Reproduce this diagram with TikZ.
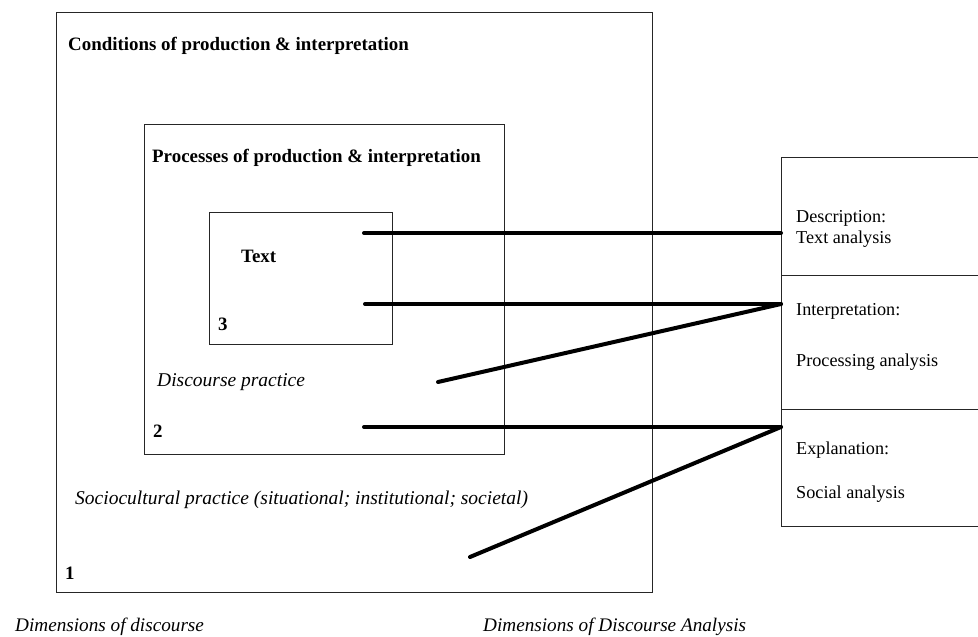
\documentclass[tikz,border=0pt]{standalone}
\usepackage{fontspec}
\setmainfont{Liberation Serif}
\begin{document}
\begin{tikzpicture}[x=1pt,y=-1pt,
  box/.style={draw=black!85, line width=1.1pt, inner sep=0pt, anchor=north west},
  conn/.style={line width=4pt, line cap=round},
  bl/.style={anchor=base west, inner sep=0pt, font=\fontsize{18.9}{20}\selectfont\bfseries},
  il/.style={anchor=base west, inner sep=0pt, font=\fontsize{19.5}{20}\selectfont\itshape},
  rl/.style={anchor=base west, inner sep=0pt, font=\fontsize{18.2}{20}\selectfont},
  captionlbl/.style={anchor=base west, inner sep=0pt, font=\fontsize{19.2}{20}\selectfont\itshape}]
\useasboundingbox (0,0) rectangle (978,637);
\clip (0,0) rectangle (978,637);
% boxes
\node[box, minimum width=596pt, minimum height=580pt] (outer) at (56,12) {};
\node[box, minimum width=360pt, minimum height=330pt] (middle) at (144,124) {};
\node[box, minimum width=183pt, minimum height=132pt] (inner) at (209,212) {};
\node[box, minimum width=220pt, minimum height=118pt] (rdesc) at (781,157) {};
\node[box, minimum width=220pt, minimum height=134pt] (rinterp) at (781,275) {};
\node[box, minimum width=220pt, minimum height=117pt] (rexpl) at (781,409) {};
% labels
\node[bl] (cond) at (68,50) {Conditions of production \& interpretation};
\node[bl] (proc) at (152,162) {Processes of production \& interpretation};
\node[bl] (text) at (241,262) {Text};
\node[bl] (n3) at (218,330) {3};
\node[il] (dp) at (157,386) {Discourse practice};
\node[bl] (n2) at (153,437) {2};
\node[il] (sp) at (75,504) {Sociocultural practice (situational; institutional; societal)};
\node[bl] (n1) at (65,579) {1};
\node[rl] (d1) at (796,222) {Description:};
\node[rl] (d2) at (796,243) {Text analysis};
\node[rl] (i1) at (796,315) {Interpretation:};
\node[rl] (i2) at (796,366) {Processing analysis};
\node[rl] (e1) at (796,454) {Explanation:};
\node[rl] (e2) at (796,498) {Social analysis};
\node[captionlbl] (c1) at (15,631) {Dimensions of discourse};
\node[captionlbl] (c2) at (483,631) {Dimensions of Discourse Analysis};
% connector endpoints
\coordinate (a1) at (364,233);
\coordinate (a2) at (365,304);
\coordinate (a3) at (438,382);
\coordinate (a4) at (364,427);
\coordinate (a5) at (470,557);
\coordinate (b1) at (781,233);
\coordinate (b2) at (781,304);
\coordinate (b4) at (781,427);
\draw[conn] (a1) -- (b1);
\draw[conn] (a2) -- (b2);
\draw[conn] (a3) -- (b2);
\draw[conn] (a4) -- (b4);
\draw[conn] (a5) -- (b4);
\end{tikzpicture}
\end{document}
